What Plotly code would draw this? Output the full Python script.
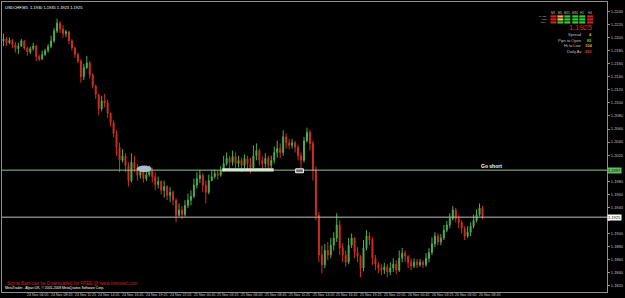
import plotly.graph_objects as go

# Prices stored in pips (price * 10000)
first_open = 12195
closes = [12198,12192,12196,12189,12183,12187,12195,12184,12178,12183,12187,12171,12167,12174,12180,12186,12195,12210,12222,12213,
          12206,12209,12195,12184,12174,12164,12140,12154,12161,12143,12126,12113,12091,12103,12100,12084,12070,12053,12032,12012,
          12019,12004,11981,12009,12000,11989,11994,11984,11990,11998,11987,11975,11980,11966,11972,11958,11963,11951,11928,11936,
          11929,11943,11951,11957,11974,11984,11989,11974,11963,11981,11987,11992,11989,11997,12007,12015,12009,12018,12007,12012,
          12004,12015,12007,12001,12019,12027,12012,12007,12015,12004,12012,12024,12030,12024,12048,12039,12035,12039,12032,12019,
          12012,12042,12055,12038,11997,11928,11867,11852,11874,11867,11882,11893,11913,11878,11867,11856,11882,11893,11871,11865,
          11847,11878,11896,11890,11862,11853,11847,11844,11849,11841,11847,11853,11844,11862,11870,11865,11856,11850,11856,11852,
          11856,11852,11862,11871,11884,11896,11887,11893,11905,11913,11923,11936,11923,11917,11908,11896,11902,11911,11920,11929,
          11939,11925]
highs = [12206,12201,12200,12198,12193,12192,12198,12196,12186,12186,12192,12189,12174,12180,12183,12190,12203,12215,12229,12225,
         12219,12212,12210,12198,12186,12177,12167,12160,12172,12164,12145,12128,12114,12111,12114,12105,12085,12073,12058,12039,
         12029,12023,12009,12023,12019,12007,12001,12000,11997,12004,12001,11994,11987,11981,11981,11974,11971,11966,11954,11946,
         11942,11951,11961,11966,11984,11994,11997,11992,11981,11990,11997,11998,11997,12003,12019,12024,12019,12027,12024,12019,
         12016,12021,12019,12016,12035,12038,12030,12018,12023,12019,12019,12033,12042,12038,12058,12053,12045,12045,12042,12036,
         12024,12048,12062,12059,12042,12003,11933,11882,11884,11887,11893,11902,11931,11920,11885,11874,11893,11900,11894,11879,
         11867,11890,11905,11902,11894,11867,11856,11853,11855,11853,11856,11862,11859,11874,11878,11874,11867,11862,11862,11861,
         11861,11859,11870,11878,11894,11902,11900,11899,11913,11919,11931,11942,11939,11928,11920,11911,11911,11917,11929,11937,
         11946,11942]
lows = [12187,12187,12190,12184,12177,12175,12186,12181,12172,12175,12180,12164,12164,12166,12172,12177,12184,12192,12207,12207,
        12200,12201,12190,12180,12169,12161,12131,12135,12152,12137,12122,12106,12081,12087,12093,12077,12064,12047,12019,11994,
        12009,11994,11972,11978,11994,11981,11984,11978,11980,11987,11978,11966,11969,11960,11955,11951,11948,11943,11917,11926,
        11922,11926,11939,11943,11954,11969,11977,11963,11946,11960,11980,11984,11983,11987,11995,12004,12000,12004,12000,12001,
        11994,12000,11997,11992,12000,12012,12004,11997,12001,11997,12000,12007,12016,12015,12019,12030,12029,12030,12024,12012,
        12000,12009,12039,12027,11981,11920,11856,11839,11847,11859,11862,11874,11887,11867,11856,11849,11853,11878,11862,11856,
        11833,11842,11874,11882,11852,11844,11839,11836,11838,11833,11836,11841,11838,11841,11856,11856,11847,11844,11847,11847,
        11849,11847,11849,11856,11867,11879,11882,11882,11890,11902,11908,11920,11917,11908,11900,11890,11893,11896,11908,11917,
        11926,11922]

time_labels = ["24 Nov 2008", "24 Nov 06:05", "24 Nov 08:45", "24 Nov 11:25", "24 Nov 14:05", "24 Nov 16:45",
               "24 Nov 19:25", "24 Nov 22:05", "25 Nov 00:45", "25 Nov 03:25", "25 Nov 06:05", "25 Nov 08:45",
               "25 Nov 11:25", "25 Nov 14:05", "25 Nov 16:45", "25 Nov 19:25", "25 Nov 22:05", "26 Nov 00:45",
               "26 Nov 03:25", "26 Nov 06:05", "26 Nov 08:45"]
price_ticks = [1.1820, 1.1840, 1.1860, 1.1880, 1.1900, 1.1920, 1.1940, 1.1960, 1.1980, 1.2000, 1.2020,
               1.2040, 1.2060, 1.2080, 1.2100, 1.2120, 1.2140, 1.2160, 1.2180, 1.2200, 1.2220, 1.2240]
short_level = 1.1997
bid_level = 1.1925

tf_labels = ["M1", "M5", "M15", "M30", "H1", "H4"]
row_labels = ["MACD", "STR", "EMA"]
cell_colors = [["#d42020", "#f0a0a0", "#30d030", "#30d030", "#30d030", "#d42020"],
               ["#d42020", "#e8d020", "#30d030", "#30d030", "#30d030", "#d42020"],
               ["#d42020", "#30d030", "#30d030", "#30d030", "#30d030", "#d42020"]]
info_labels = ["Spread", "Pips to Open", "Hi to Low", "Daily Av"]
info_values = ["4", "85", "104", "201"]
info_colors = ["#f0a030", "#40d040", "#f0a030", "#f04020"]

P = lambda v: v / 10000.0
o = [P(first_open)] + [P(c) for c in closes[:-1]]
c = [P(v) for v in closes]
h = [P(v) for v in highs]
l = [P(v) for v in lows]
x = list(range(len(closes)))

fig = go.Figure()
fig.add_trace(go.Candlestick(
    x=x, open=o, high=h, low=l, close=c,
    increasing=dict(line=dict(color="#4caf50", width=1), fillcolor="#4caf50"),
    decreasing=dict(line=dict(color="#d03020", width=1), fillcolor="#d03020"),
    whiskerwidth=0, showlegend=False, hoverinfo="skip"))

W = 625; H = 298
ml, mr, mt, mb = 2, 13, 1, 6
pw = W - ml - mr
xr = [-0.5, -0.5 + pw / 3.0]
ytop = 1.22545
ybot = 1.18104

shapes = []
shapes.append(dict(type="line", xref="paper", x0=0, x1=1, yref="y", y0=short_level, y1=short_level,
                   line=dict(color="#90c890", width=1)))
shapes.append(dict(type="line", xref="paper", x0=0, x1=1, yref="y", y0=bid_level, y1=bid_level,
                   line=dict(color="#c0c0c0", width=1)))
shapes.append(dict(type="circle", xref="x", yref="y", x0=44.8, x1=49.8, y0=1.1994, y1=1.2004,
                   fillcolor="#a8bccc", line=dict(width=0)))
shapes.append(dict(type="rect", xref="x", yref="y", x0=73.5, x1=90.8, y0=1.1995, y1=1.2000,
                   fillcolor="#cfe8cf", line=dict(width=0)))
shapes.append(dict(type="rect", xref="x", yref="y", x0=98.2, x1=100.8, y0=1.1993, y1=1.1999,
                   fillcolor="#707070", line=dict(color="#ffffff", width=1)))

ann = []
FONT = "Liberation Sans"
for k, t in enumerate(time_labels):
    ann.append(dict(x=8 * k - 0.8, xref="x", y=0, yref="paper", yanchor="top", xanchor="left", yshift=1,
                    text=t, showarrow=False, font=dict(size=3.6, color="#c0c0c0", family=FONT)))
ann.append(dict(x=0.002, xref="paper", y=0.995, yref="paper", xanchor="left", yanchor="top",
                text="USDCHF,M5  1.1930 1.1935 1.1923 1.1925", showarrow=False,
                font=dict(size=4, color="#ffffff", family=FONT)))
ann.append(dict(x=159.8, xref="x", y=1.2003, yref="y", xanchor="left", yanchor="middle",
                text="<b>Go short</b>", showarrow=False, font=dict(size=5, color="#ffffff", family=FONT)))
ann.append(dict(x=1.0, xref="paper", y=short_level, yref="y", xanchor="left", yanchor="middle",
                text="%.4f" % short_level, showarrow=False, bgcolor="#60c060", borderpad=0,
                font=dict(size=4, color="#000000", family=FONT)))
ann.append(dict(x=1.0, xref="paper", y=bid_level, yref="y", xanchor="left", yanchor="middle",
                text="%.4f" % bid_level, showarrow=False, bgcolor="#ffffff", borderpad=0,
                font=dict(size=4, color="#000000", family=FONT)))
ann.append(dict(x=0.005, xref="paper", y=0.014, yref="paper", xanchor="left", yanchor="bottom",
                text="Signal Bars can be Downloaded for FREE @ www.forexted.com", showarrow=False,
                font=dict(size=4.6, color="#d02020", family=FONT)))
ann.append(dict(x=0.002, xref="paper", y=0.0, yref="paper", xanchor="left", yanchor="bottom",
                text="MetaTrader - Alpari UK, \u00a9 2001-2008 MetaQuotes Software Corp.", showarrow=False,
                font=dict(size=3.4, color="#ffffff", family=FONT)))

def px(xp):
    return (xp - ml) / pw
def py(yp):
    return 1 - (yp - mt) / (H - mt - mb)

col_x = [558, 565, 572, 580, 587, 595]
row_y = [15.5, 18.5, 21.5]
for j, t in enumerate(tf_labels):
    ann.append(dict(x=px(col_x[j]), xref="paper", y=py(12), yref="paper", xanchor="center", yanchor="middle",
                    text=t, showarrow=False, font=dict(size=3, color="#c0c0c0", family=FONT)))
for r in range(3):
    ann.append(dict(x=px(554), xref="paper", y=py(row_y[r]), yref="paper", xanchor="right", yanchor="middle",
                    text=row_labels[r], showarrow=False, font=dict(size=2.5, color="#c0c0c0", family=FONT)))
    for j in range(6):
        shapes.append(dict(type="rect", xref="paper", yref="paper",
                           x0=px(col_x[j] - 3), x1=px(col_x[j] + 3),
                           y0=py(row_y[r] + 1.1), y1=py(row_y[r] - 1.1),
                           fillcolor=cell_colors[r][j], line=dict(width=0)))
ann.append(dict(x=px(599), xref="paper", y=py(26.5), yref="paper", xanchor="right", yanchor="middle",
                text="1.1925", showarrow=False, font=dict(size=7.5, color="#e02020", family=FONT)))
info_y = [34, 39.5, 45, 50.5]
for k in range(4):
    ann.append(dict(x=px(588), xref="paper", y=py(info_y[k]), yref="paper", xanchor="right", yanchor="middle",
                    text=info_labels[k], showarrow=False, font=dict(size=4, color="#c0c0c0", family=FONT)))
    ann.append(dict(x=px(599), xref="paper", y=py(info_y[k]), yref="paper", xanchor="right", yanchor="middle",
                    text="<b>%s</b>" % info_values[k], showarrow=False,
                    font=dict(size=4, color=info_colors[k], family=FONT)))

# tick labels hidden where the level boxes sit on the price scale
tick_text = ["" if abs(v - short_level) < 0.0008 or abs(v - bid_level) < 0.0008 else "%.4f" % v for v in price_ticks]

fig.update_layout(
    width=W, height=H, margin=dict(l=ml, r=mr, t=mt, b=mb),
    paper_bgcolor="#000000", plot_bgcolor="#000000",
    shapes=shapes, annotations=ann, showlegend=False, boxgap=0.55,
    xaxis=dict(range=xr, showgrid=False, zeroline=False, showticklabels=False, rangeslider=dict(visible=False),
               showline=True, linecolor="#909090", linewidth=1, mirror=True, ticks=""),
    yaxis=dict(range=[ybot, ytop], side="right", showgrid=False, zeroline=False, tickvals=price_ticks,
               ticktext=tick_text, ticks="outside", ticklen=2, tickcolor="#909090",
               tickfont=dict(size=4, color="#c0c0c0", family=FONT),
               showline=True, linecolor="#909090", linewidth=1, mirror=True),
)
fig.write_html("out.html")
